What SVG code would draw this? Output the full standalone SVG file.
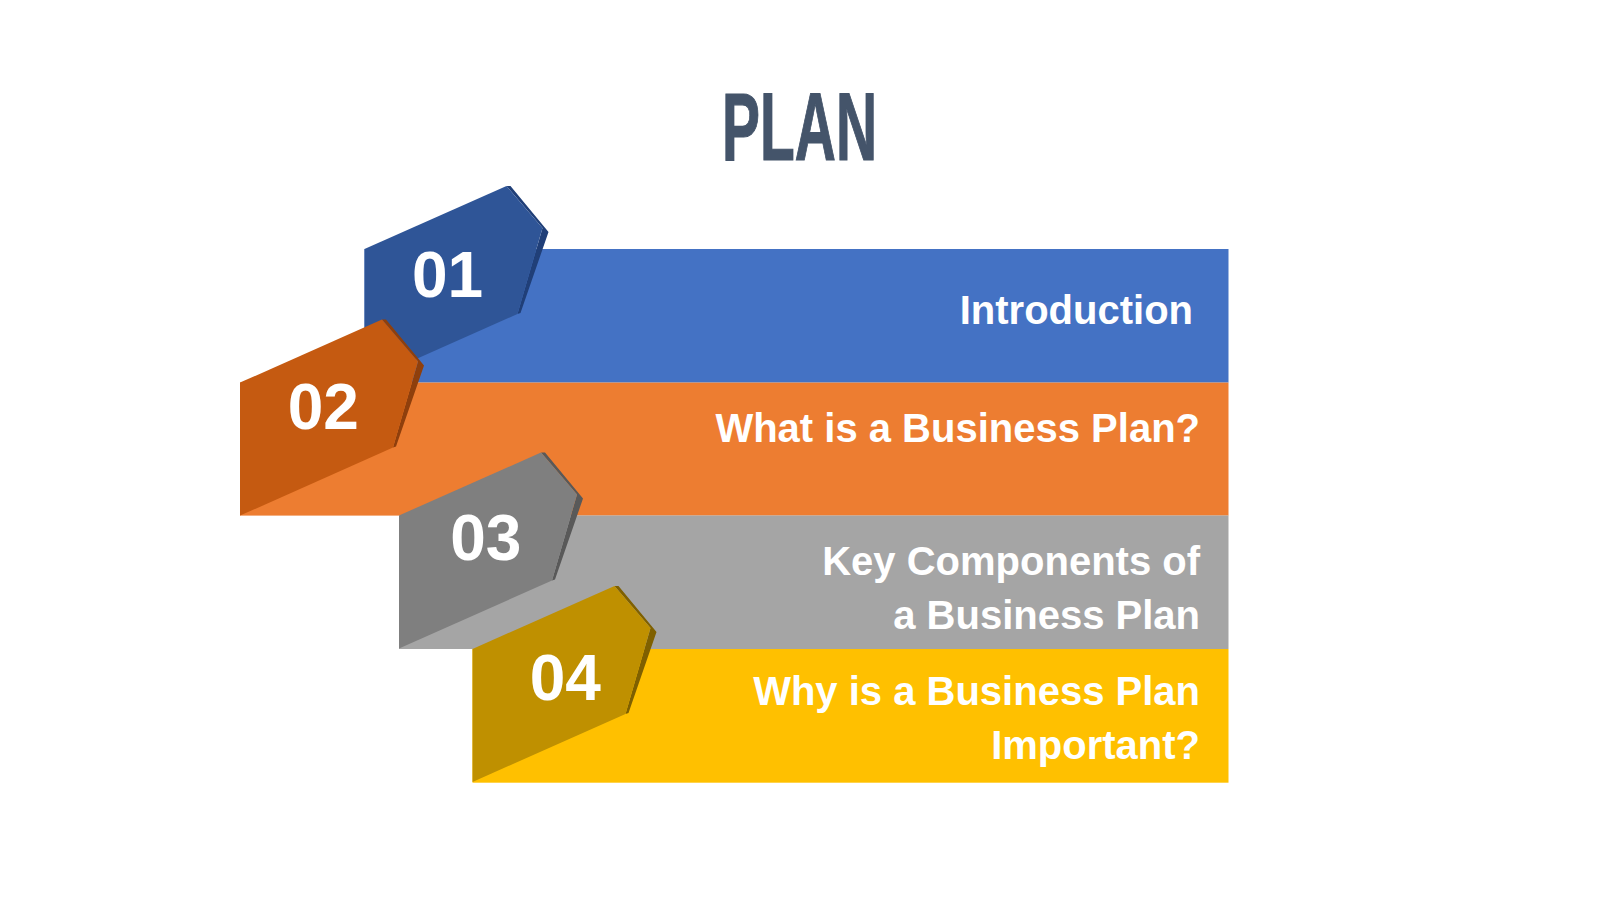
<svg xmlns="http://www.w3.org/2000/svg" xmlns:xlink="http://www.w3.org/1999/xlink" width="1600" height="900" viewBox="0 0 1600 900">
  <style>
    .num { font-family: "Liberation Sans", Arial, sans-serif; font-weight: bold; font-size: 64px; fill: #ffffff; text-anchor: middle; }
    .lbl { font-family: "Liberation Sans", Arial, sans-serif; font-weight: bold; font-size: 40px; fill: #ffffff; text-anchor: end; }
    .title { font-family: "Liberation Sans", Arial, sans-serif; font-weight: bold; font-size: 96px; fill: #44546A; stroke: #44546A; stroke-width: 1.2; }
  </style>
  <defs>
    <path id="tab" d="M0,0 L142,-63 L178,-21 L153,65 L0,133 Z"/>
    <path id="tabShadow" d="M142,-63 L146,-63 L184,-17 L156,64 L153,65 L178,-21 Z"/>
  </defs>
  <rect width="1600" height="900" fill="#ffffff"/>

  <text class="title" x="722" y="160" textLength="155" lengthAdjust="spacingAndGlyphs">PLAN</text>

  <g id="item1">
    <rect x="364.5" y="249" width="864" height="133.6" fill="#4472C4"/>
    <g transform="translate(364.5,249)">
      <use xlink:href="#tabShadow" fill="#203F78"/>
      <use xlink:href="#tab" fill="#2F5597"/>
    </g>
    <text class="num" x="447.5" y="296.7">01</text>
    <text class="lbl" x="1193" y="323.5">Introduction</text>
  </g>

  <g id="item2">
    <rect x="240" y="382.6" width="988.5" height="133" fill="#ED7D31"/>
    <g transform="translate(240,382.6)">
      <use xlink:href="#tabShadow" fill="#8F3F0C"/>
      <use xlink:href="#tab" fill="#C55A11"/>
    </g>
    <text class="num" x="323.3" y="429">02</text>
    <text class="lbl" x="1200" y="442">What is a Business Plan?</text>
  </g>

  <g id="item3">
    <rect x="399" y="515.5" width="829.5" height="133.5" fill="#A5A5A5"/>
    <g transform="translate(399,515.5)">
      <use xlink:href="#tabShadow" fill="#595959"/>
      <use xlink:href="#tab" fill="#7F7F7F"/>
    </g>
    <text class="num" x="485.8" y="560">03</text>
    <text class="lbl" x="1200" y="575.3">Key Components of</text>
    <text class="lbl" x="1200" y="628.5">a Business Plan</text>
  </g>

  <g id="item4">
    <rect x="472.5" y="649" width="756" height="133.7" fill="#FFC000"/>
    <g transform="translate(472.5,649)">
      <use xlink:href="#tabShadow" fill="#7F6000"/>
      <use xlink:href="#tab" fill="#BF9000"/>
    </g>
    <text class="num" x="565.3" y="700">04</text>
    <text class="lbl" x="1200" y="705.3">Why is a Business Plan</text>
    <text class="lbl" x="1200" y="758.5">Important?</text>
  </g>

  <g id="connectors"/>
</svg>
